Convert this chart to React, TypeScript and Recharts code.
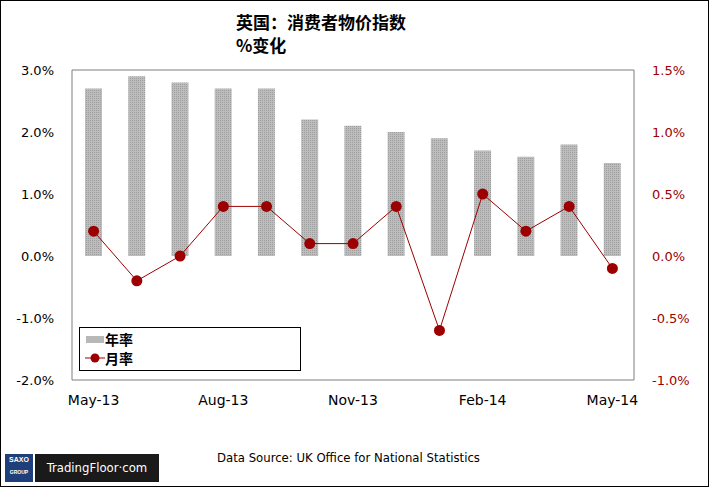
import React from 'react';
import { ComposedChart, Bar, Line, XAxis, YAxis, CartesianGrid } from 'recharts';

const categories = ['May-13', 'Jun-13', 'Jul-13', 'Aug-13', 'Sep-13', 'Oct-13', 'Nov-13', 'Dec-13', 'Jan-14', 'Feb-14', 'Mar-14', 'Apr-14', 'May-14'];
const annualRate = [2.7, 2.9, 2.8, 2.7, 2.7, 2.2, 2.1, 2.0, 1.9, 1.7, 1.6, 1.8, 1.5];
const monthlyRate = [0.2, -0.2, 0.0, 0.4, 0.4, 0.1, 0.1, 0.4, -0.6, 0.5, 0.2, 0.4, -0.1];
const leftTicks = [-2, -1, 0, 1, 2, 3];
const rightTicks = [-1, -0.5, 0, 0.5, 1, 1.5];
const xTickLabels = ['May-13', 'Aug-13', 'Nov-13', 'Feb-14', 'May-14'];

const data = categories.map((c, i) => ({ month: c, annual: annualRate[i], monthly: monthlyRate[i] }));

const RED = '#9c0000';
const FONT = 'Tahoma, "DejaVu Sans", Verdana, sans-serif';

export default function App() {
  return (
    <div style={{ position: 'absolute', left: 0, top: 0, width: 709, height: 487, background: '#fff', fontFamily: FONT }}>
      <div style={{ position: 'absolute', left: 0, top: 0, width: 707, height: 485, border: '1px solid #000' }} />
      <ComposedChart width={709} height={487} data={data} margin={{ top: 70, right: 0, bottom: 77, left: 0 }}>
        <defs>
          <pattern id="dots" width="2" height="2" patternUnits="userSpaceOnUse">
            <rect width="2" height="2" fill="#bdbdbd" />
            <rect width="1" height="1" fill="#9e9e9e" />
          </pattern>
        </defs>
        <CartesianGrid vertical={false} stroke="#7f7f7f" strokeWidth={1} />
        <XAxis
          dataKey="month"
          height={30}
          ticks={xTickLabels}
          interval={0}
          tickLine={false}
          axisLine={false}
          tick={{ fill: '#000', fontSize: 14, fontFamily: FONT }}
          tickMargin={9}
        />
        <YAxis
          yAxisId="left"
          width={72}
          domain={[-2, 3]}
          ticks={leftTicks}
          tickFormatter={(v: number) => v.toFixed(1) + '%'}
          tickLine={false}
          axisLine={{ stroke: '#7f7f7f' }}
          tick={{ fill: '#000', fontSize: 13, fontFamily: FONT }}
          tickMargin={12}
        />
        <YAxis
          yAxisId="right"
          orientation="right"
          width={75}
          domain={[-1, 1.5]}
          ticks={rightTicks}
          tickFormatter={(v: number) => v.toFixed(1) + '%'}
          tickLine={false}
          axisLine={{ stroke: '#7f7f7f' }}
          tick={{ fill: RED, fontSize: 13, fontFamily: FONT }}
          tickMargin={12}
        />
        <Bar yAxisId="left" dataKey="annual" fill="url(#dots)" barSize={17} isAnimationActive={false} />
        <Line
          yAxisId="right"
          dataKey="monthly"
          stroke={RED}
          strokeWidth={1}
          dot={{ r: 5.5, fill: RED, stroke: RED, strokeWidth: 0 }}
          isAnimationActive={false}
        />
      </ComposedChart>
      <div style={{ position: 'absolute', left: 236, top: 10, fontSize: 17, fontWeight: 'bold', lineHeight: '23px', fontFamily: '"Noto Sans CJK SC", sans-serif', color: '#000' }}>
        <div>英国：消费者物价指数</div>
        <div>%变化</div>
      </div>
      <div style={{ position: 'absolute', left: 79, top: 327, width: 220, height: 42, border: '1px solid #000', background: '#fff', fontFamily: '"Noto Sans CJK SC", sans-serif', fontSize: 14, fontWeight: 'bold' }}>
        <div style={{ position: 'absolute', left: 6, top: 8, width: 18, height: 7, backgroundColor: '#b8b8b8' }} />
        <div style={{ position: 'absolute', left: 25, top: 2, lineHeight: '18px' }}>年率</div>
        <svg style={{ position: 'absolute', left: 5, top: 23 }} width={20} height={14}>
          <line x1={0} y1={7} x2={20} y2={7} stroke={RED} strokeWidth={1} />
          <circle cx={10} cy={7} r={4.5} fill={RED} />
        </svg>
        <div style={{ position: 'absolute', left: 25, top: 21, lineHeight: '18px' }}>月率</div>
      </div>
      <div style={{ position: 'absolute', left: 5, top: 454, width: 28, height: 28, background: '#1f3f7a', color: '#fff', fontSize: 7, fontWeight: 'bold', textAlign: 'center', lineHeight: '12px', fontFamily: 'Arial, sans-serif' }}>
        <div>SAXO</div>
        <div style={{ fontSize: 5 }}>GROUP</div>
      </div>
      <div style={{ position: 'absolute', left: 35, top: 454, width: 124, height: 28, background: '#1a1a1a', color: '#fff', fontSize: 13, lineHeight: '28px', textAlign: 'center', fontFamily: '"DejaVu Sans Condensed", "Liberation Sans Narrow", sans-serif' }}>
        TradingFloor·com
      </div>
      <div style={{ position: 'absolute', left: 217, top: 450, fontSize: 13, color: '#000', fontFamily: '"DejaVu Sans Condensed", Tahoma, sans-serif' }}>
        Data Source: UK Office for National Statistics
      </div>
    </div>
  );
}
